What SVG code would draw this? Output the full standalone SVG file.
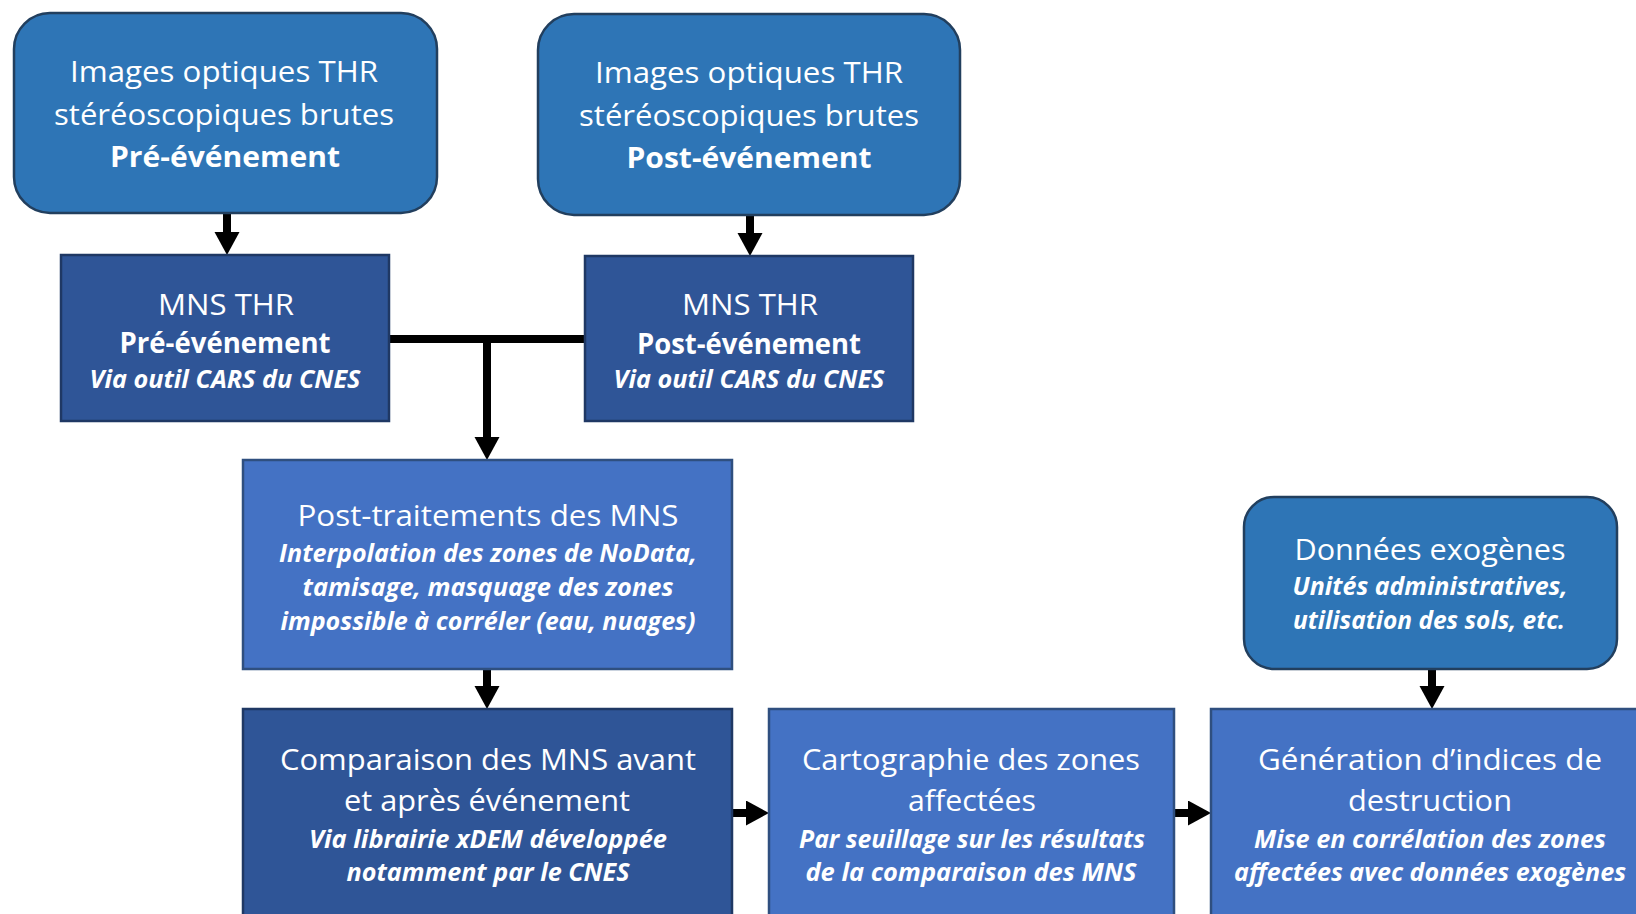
<svg xmlns="http://www.w3.org/2000/svg" width="1636" height="914" viewBox="0 0 1636 914">
<defs>
<style>
.t{font-family:"Open Sans","Liberation Sans",sans-serif;fill:#fff;text-anchor:middle}
.r{font-size:30px;font-weight:400}
.b{font-size:29px;font-weight:700}
.i{font-size:25px;font-weight:700;font-style:italic}
.src{fill:#2E75B6;stroke:#223F5E;stroke-width:2.5}
.dk{fill:#2F5597;stroke:#1F3864;stroke-width:2.5}
.lt{fill:#4472C4;stroke:#2F4F7F;stroke-width:2.5}
.c{fill:none;stroke:#000;stroke-width:8}
</style>
<marker id="ah" markerUnits="userSpaceOnUse" markerWidth="26" markerHeight="26" refX="0" refY="12.5" orient="auto">
<path d="M0,0 L23,12.5 L0,25 Z" fill="#000"/>
</marker>
</defs>
<rect width="1636" height="914" fill="#fff"/>
<g id="connectors">
<path class="c" d="M227,213 V232" marker-end="url(#ah)"/>
<path class="c" d="M750,215 V233" marker-end="url(#ah)"/>
<path class="c" d="M389,339 H585"/>
<path class="c" d="M487,339 V437" marker-end="url(#ah)"/>
<path class="c" d="M487,669 V686" marker-end="url(#ah)"/>
<path class="c" d="M732,813 H746" marker-end="url(#ah)"/>
<path class="c" d="M1174,813 H1188" marker-end="url(#ah)"/>
<path class="c" d="M1432,669 V686" marker-end="url(#ah)"/>
</g>
<g id="n_img_pre">
<rect class="src" x="14" y="13" width="423" height="200" rx="36"/>
<text class="t r" x="224" y="82" textLength="308" lengthAdjust="spacingAndGlyphs">Images optiques THR</text>
<text class="t r" x="224" y="125" textLength="340" lengthAdjust="spacingAndGlyphs">stéréoscopiques  brutes</text>
<text class="t b" x="225" y="167" textLength="230" lengthAdjust="spacingAndGlyphs">Pré-événement</text>
</g>
<g id="n_img_post">
<rect class="src" x="538" y="14" width="422" height="201" rx="36"/>
<text class="t r" x="749" y="83" textLength="308" lengthAdjust="spacingAndGlyphs">Images optiques THR</text>
<text class="t r" x="749" y="126" textLength="340" lengthAdjust="spacingAndGlyphs">stéréoscopiques  brutes</text>
<text class="t b" x="749" y="168" textLength="245" lengthAdjust="spacingAndGlyphs">Post-événement</text>
</g>
<g id="n_mns_pre">
<rect class="dk" x="61" y="255" width="328" height="166"/>
<text class="t r" x="226" y="315" textLength="136" lengthAdjust="spacingAndGlyphs">MNS THR</text>
<text class="t b" x="225" y="353" textLength="211" lengthAdjust="spacingAndGlyphs">Pré-événement</text>
<text class="t i" x="225" y="388" textLength="271" lengthAdjust="spacingAndGlyphs">Via outil CARS du CNES</text>
</g>
<g id="n_mns_post">
<rect class="dk" x="585" y="256" width="328" height="165"/>
<text class="t r" x="750" y="315" textLength="136" lengthAdjust="spacingAndGlyphs">MNS THR</text>
<text class="t b" x="749" y="354" textLength="224" lengthAdjust="spacingAndGlyphs">Post-événement</text>
<text class="t i" x="749" y="388" textLength="271" lengthAdjust="spacingAndGlyphs">Via outil CARS du CNES</text>
</g>
<g id="n_post_trait">
<rect class="lt" x="243" y="460" width="489" height="209"/>
<text class="t r" x="488" y="526" textLength="381" lengthAdjust="spacingAndGlyphs">Post-traitements des MNS</text>
<text class="t i" x="488" y="562" textLength="418" lengthAdjust="spacingAndGlyphs">Interpolation des zones de NoData,</text>
<text class="t i" x="488" y="596" textLength="371" lengthAdjust="spacingAndGlyphs">tamisage, masquage des zones</text>
<text class="t i" x="488" y="630" textLength="415" lengthAdjust="spacingAndGlyphs">impossible à corréler (eau, nuages)</text>
</g>
<g id="n_comparaison">
<rect class="dk" x="243" y="709" width="489" height="215"/>
<text class="t r" x="488" y="770" textLength="416" lengthAdjust="spacingAndGlyphs">Comparaison des MNS avant</text>
<text class="t r" x="487" y="811" textLength="286" lengthAdjust="spacingAndGlyphs">et après événement</text>
<text class="t i" x="488" y="848" textLength="358" lengthAdjust="spacingAndGlyphs">Via librairie xDEM développée</text>
<text class="t i" x="488" y="881" textLength="283" lengthAdjust="spacingAndGlyphs">notamment par le CNES</text>
</g>
<g id="n_cartographie">
<rect class="lt" x="769" y="709" width="405" height="215"/>
<text class="t r" x="971" y="770" textLength="338" lengthAdjust="spacingAndGlyphs">Cartographie des zones</text>
<text class="t r" x="972" y="811" textLength="128" lengthAdjust="spacingAndGlyphs">affectées</text>
<text class="t i" x="972" y="848" textLength="346" lengthAdjust="spacingAndGlyphs">Par seuillage sur les résultats</text>
<text class="t i" x="971" y="881" textLength="331" lengthAdjust="spacingAndGlyphs">de la comparaison des MNS</text>
</g>
<g id="n_donnees">
<rect class="src" x="1244" y="497" width="373" height="172" rx="30"/>
<text class="t r" x="1430" y="560" textLength="271" lengthAdjust="spacingAndGlyphs">Données exogènes</text>
<text class="t i" x="1430" y="595" textLength="275" lengthAdjust="spacingAndGlyphs">Unités administratives,</text>
<text class="t i" x="1429" y="629" textLength="272" lengthAdjust="spacingAndGlyphs">utilisation des sols, etc.</text>
</g>
<g id="n_generation">
<rect class="lt" x="1211" y="709" width="460" height="215"/>
<text class="t r" x="1430" y="770" textLength="344" lengthAdjust="spacingAndGlyphs">Génération d’indices de</text>
<text class="t r" x="1430" y="811" textLength="164" lengthAdjust="spacingAndGlyphs">destruction</text>
<text class="t i" x="1430" y="848" textLength="352" lengthAdjust="spacingAndGlyphs">Mise en corrélation des zones</text>
<text class="t i" x="1430" y="881" textLength="392" lengthAdjust="spacingAndGlyphs">affectées avec données exogènes</text>
</g>
</svg>
